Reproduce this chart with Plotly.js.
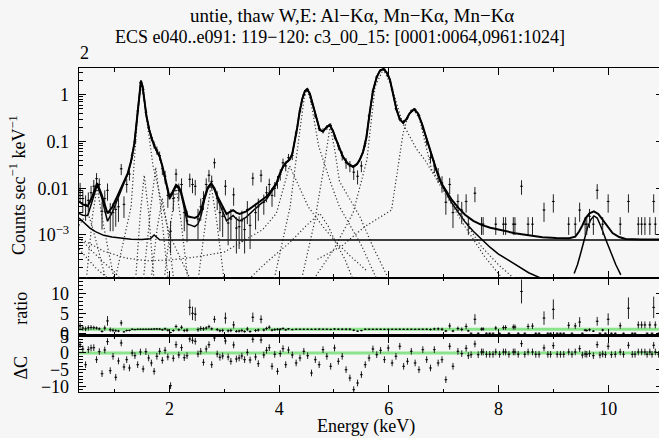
<!DOCTYPE html>
<html><head><meta charset="utf-8">
<script src="https://cdn.plot.ly/plotly-3.0.1.min.js"></script>
<style>html,body{margin:0;padding:0;overflow:hidden;background:#f6f6f6}#chart{width:663px;height:438px}</style>
</head><body><div id="chart"></div>
<script>
// ---------- data ----------
const titleLine1 = 'untie, thaw W,E: Al\u2212K\u03b1, Mn\u2212K\u03b1, Mn\u2212K\u03b1';
const titleLine2 = 'ECS e040..e091: 119\u2212120: c3_00_15: [0001:0064,0961:1024]';
const cornerLabel = '2';
const xTitle = 'Energy (keV)';
const yTitleTop = 'Counts sec<sup>\u22121</sup> keV<sup>\u22121</sup>';
const yTitleRatio = 'ratio';
const yTitleDC = '\u0394C';
const topTickVals = [0.001, 0.01, 0.1, 1];
const topTickText = ['10<sup>\u22123</sup>', '0.01', '0.1', '1'];
const ratioTickVals = [0, 5, 10];
const ratioTickText = ['0', '5', '10'];
const dcTickVals = [-10, -5, 0, 5];
const dcTickText = ['\u221210', '\u22125', '0', '5'];
const ratioRef = 1;
const dcRef = 0;

// total model
const modelE = [0.35,0.42,0.51,0.60,0.68,0.76,0.87,0.96,1.06,1.15,1.24,1.30,1.36,1.40,1.44,1.48,1.51,1.54,1.58,1.63,1.68,1.73,1.78,1.82,1.87,1.91,1.96,2.00,2.06,2.12,2.17,2.21,2.27,2.33,2.40,2.46,2.52,2.58,2.64,2.70,2.76,2.82,2.88,2.94,3.04,3.10,3.16,3.22,3.28,3.40,3.52,3.64,3.77,3.86,3.95,4.01,4.07,4.13,4.19,4.24,4.28,4.33,4.37,4.42,4.47,4.51,4.56,4.62,4.68,4.74,4.80,4.86,4.92,4.98,5.04,5.10,5.16,5.25,5.35,5.42,5.47,5.53,5.59,5.65,5.71,5.78,5.84,5.90,5.96,6.02,6.08,6.14,6.20,6.26,6.32,6.38,6.46,6.53,6.60,6.69,6.78,6.87,6.96,7.05,7.15,7.27,7.39,7.54,7.69,7.85,8.00,8.15,8.30,8.55,8.80,9.05,9.29,9.40,9.47,9.53,9.59,9.66,9.74,9.82,9.90,9.99,10.08,10.20,10.32,10.60,11.0];
const modelTotal = [5.2e-3,4.5e-3,4.1e-3,7.0e-3,1.28e-2,7.5e-3,2.9e-3,4.0e-3,7.2e-3,1.2e-2,2.1e-2,3.8e-2,9.2e-2,0.25,0.8,2.0,1.5,0.78,0.35,0.18,0.11,0.078,0.058,0.048,0.03,0.018,9.5e-3,6.6e-3,8.5e-3,1.18e-2,1.05e-2,8.5e-3,4.5e-3,2.5e-3,2.4e-3,2.3e-3,2.5e-3,3.5e-3,6.5e-3,1.05e-2,1.28e-2,1.0e-2,6.5e-3,4.6e-3,2.8e-3,3.1e-3,3.4e-3,3.0e-3,2.8e-3,3.2e-3,4.1e-3,5.2e-3,6.6e-3,9.0e-3,1.28e-2,2.0e-2,2.9e-2,3.6e-2,4.1e-2,5.5e-2,9.2e-2,0.2,0.41,0.8,1.2,1.32,1.05,0.56,0.3,0.178,0.164,0.2,0.227,0.17,0.109,0.07,0.048,0.034,0.029,0.033,0.041,0.06,0.12,0.4,1.2,2.4,3.3,3.55,3.0,2.1,1.0,0.48,0.3,0.25,0.3,0.4,0.49,0.4,0.247,0.11,0.048,0.024,0.0128,8.5e-3,5.6e-3,3.8e-3,2.7e-3,2.0e-3,1.64e-3,1.42e-3,1.29e-3,1.17e-3,1.09e-3,9.8e-4,8.9e-4,8.6e-4,8.5e-4,9.2e-4,1.18e-3,1.6e-3,2.3e-3,2.9e-3,3.2e-3,2.8e-3,2.1e-3,1.5e-3,1.1e-3,9.0e-4,8.2e-4,8.0e-4,8.0e-4];
// line-only model (no continuum)
const lineE = [0.35,0.42,0.51,0.60,0.68,0.76,0.87,0.96,1.06,1.15,1.24,1.30,1.36,1.40,1.44,1.48,1.51,1.54,1.58,1.63,1.68,1.73,1.78,1.82,1.87,1.91,1.96,2.00,2.06,2.12,2.17,2.21,2.27,2.33,2.40,2.46,2.52,2.58,2.64,2.70,2.76,2.82,2.88,2.94,3.04,3.10,3.16,3.22,3.28,3.40,3.52,3.64,3.77,3.86,3.95,4.01,4.07,4.13,4.19,4.24,4.28,4.33,4.37,4.42,4.47,4.51,4.56,4.62,4.68,4.74,4.80,4.86,4.92,4.98,5.04,5.10,5.16,5.25,5.35,5.42,5.47,5.53,5.59,5.65,5.71,5.78,5.84,5.90,5.96,6.02,6.08,6.14,6.20,6.26,6.32,6.38,6.46,6.53,6.60,6.69,6.78,6.87,6.96,7.05,7.15,7.27,7.39,7.54,7.69,7.85,8.00,8.15,8.30,8.55,8.80,8.90];
const lineOnly = [2.9e-3,2.65e-3,2.6e-3,5.7e-3,1.16e-2,6.5e-3,1.96e-3,3.1e-3,6.3e-3,1.12e-2,2.0e-2,3.7e-2,9.1e-2,0.25,0.8,2.0,1.5,0.78,0.35,0.18,0.11,0.077,0.057,0.047,0.029,0.017,8.7e-3,5.8e-3,7.7e-3,1.1e-2,9.7e-3,7.7e-3,3.7e-3,1.7e-3,1.6e-3,1.5e-3,1.7e-3,2.7e-3,5.7e-3,9.7e-3,1.2e-2,9.2e-3,5.7e-3,3.8e-3,2.0e-3,2.3e-3,2.6e-3,2.2e-3,2.0e-3,2.4e-3,3.3e-3,4.4e-3,5.8e-3,8.2e-3,1.2e-2,1.92e-2,2.82e-2,3.5e-2,4.0e-2,5.4e-2,9.1e-2,0.2,0.41,0.8,1.2,1.32,1.05,0.56,0.3,0.177,0.163,0.2,0.226,0.17,0.108,0.069,0.047,0.033,0.028,0.032,0.040,0.059,0.12,0.4,1.2,2.4,3.3,3.55,3.0,2.1,1.0,0.48,0.3,0.25,0.3,0.4,0.49,0.4,0.246,0.109,0.047,0.023,0.012,7.7e-3,4.8e-3,3.0e-3,1.9e-3,1.2e-3,8.0e-4,5.4e-4,3.9e-4,3.0e-4,2.3e-4,1.55e-4,1.15e-4,1.0e-4];
// continuum
const contE = [0.35,0.45,0.55,0.65,0.80,0.95,1.10,1.30,1.50,1.65,1.72,1.76,1.82,2.0,4.0,6.0,8.0,11.0];
const contV = [2.3e-3,1.75e-3,1.4e-3,1.18e-3,9.8e-4,9.0e-4,8.5e-4,8.1e-4,8.0e-4,8.3e-4,1.0e-3,9.0e-4,7.9e-4,7.8e-4,7.8e-4,7.8e-4,7.8e-4,7.8e-4];
// 9.7 keV gaussian
const gaussE = [9.38,9.44,9.50,9.56,9.62,9.68,9.74,9.80,9.87,9.96,10.05,10.14,10.23];
const gaussV = [1.5e-4,2.3e-4,4.1e-4,7.8e-4,1.39e-3,2.1e-3,2.55e-3,2.3e-3,1.5e-3,7.8e-4,4.1e-4,2.3e-4,1.4e-4];

// dotted model components
const c1E = [0.35,0.45,0.52,0.60,0.72,0.85],           c1V = [1.6e-3,2.4e-3,2.8e-3,1.4e-3,4e-4,1e-4];
const c2E = [0.48,0.60,0.68,0.76,0.88,1.0],            c2V = [1e-4,2.8e-3,0.0105,2.8e-3,5e-4,1e-4];
const c3E = [0.35,0.55,0.80,1.00,1.15],                c3V = [9e-4,5e-4,2.6e-4,1.6e-4,1e-4];
const c4E = [0.35,0.50,0.65,0.80,0.95],                c4V = [5e-4,3.2e-4,2e-4,1.4e-4,1e-4];
const c5E = [1.38,1.47,1.54,1.62,1.72],                c5V = [1e-4,3e-3,0.019,3e-3,1e-4];
const c6E = [1.52,1.66,1.75,1.84,1.98],                c6V = [1e-4,4e-3,0.028,4e-3,1e-4];
const c7E = [1.66,1.78,1.87,1.96,2.08],                c7V = [1e-4,1.5e-3,6e-3,1.5e-3,1e-4];
const c8E = [1.90,2.03,2.12,2.21,2.34],                c8V = [1e-4,2e-3,0.0105,2e-3,1e-4];
const c9E = [2.52,2.66,2.76,2.86,3.00],                c9V = [1e-4,2e-3,0.0115,2e-3,1e-4];
const c10E = [1.0,1.3,1.42,1.48,1.55,1.7,2.0,2.4],     c10V = [1e-4,4e-3,0.4,1.9,0.6,0.03,1e-3,1e-4];
const c11E = [0.40,0.80,1.20,1.60,2.00,2.50,3.00,3.30,3.70,3.95,4.10,4.19,4.32,4.53,4.80,5.04,5.30,5.60];
const c11V = [8e-4,4.5e-4,3.2e-4,2.8e-4,2.9e-4,3.4e-4,4.3e-4,7e-4,1.3e-3,2.9e-3,0.012,0.03,0.014,4e-3,1.5e-3,7e-4,3.5e-4,1.7e-4];
const c12E = [3.40,3.80,4.20,4.50,4.74,4.90,5.04,5.20,5.36], c12V = [1e-4,2.8e-4,7e-4,1.6e-3,2.9e-3,1.5e-3,6.6e-4,3e-4,1e-4];
const c13E = [3.90,4.20,4.36,4.46,4.51,4.58,4.72,4.95,5.10,5.50,5.80], c13V = [1e-4,4e-3,0.12,0.9,1.28,0.7,0.08,0.012,4e-3,6e-4,1e-4];
const c14E = [4.40,4.65,4.82,4.93,5.02,5.10,5.47,5.71,6.02], c14V = [1e-4,2e-3,0.03,0.215,0.06,0.014,2.5e-3,5.6e-4,1e-4];
const c15E = [4.60,5.00,5.35,5.60,5.75,5.90,6.05,6.25,6.50,6.66,7.02,7.39,7.75,8.12];
const c15V = [1e-4,5e-4,3e-3,0.04,1.5,3.5,1.5,0.25,0.07,0.04,7.8e-3,1.5e-3,3.4e-4,1e-4];
const c16E = [4.70,5.16,5.56,6.05,6.26,6.36,6.46,6.56,6.78,7.15,7.45,7.69,8.00,8.35];
const c16V = [3e-4,6e-4,1.5e-3,3.4e-3,0.15,0.38,0.47,0.3,0.025,5.6e-3,1.5e-3,5.6e-4,2.3e-4,1e-4];

// data bins
const binE = [0.37,0.42,0.47,0.52,0.57,0.62,0.67,0.72,0.77,0.82,0.87,0.92,0.97,1.02,1.07,1.12,1.17,1.22,1.27,1.32,1.37,1.42,1.47,1.52,1.57,1.62,1.67,1.72,1.77,1.82,1.87,1.92,1.97,2.02,2.07,2.12,2.17,2.22,2.27,2.32,2.37,2.42,2.47,2.52,2.57,2.62,2.67,2.72,2.77,2.82,2.87,2.92,2.97,3.02,3.07,3.12,3.17,3.22,3.27,3.32,3.37,3.42,3.47,3.52,3.57,3.62,3.67,3.72,3.77,3.82,3.87,3.92,3.97,4.02,4.07,4.12,4.17,
4.24,4.31,4.38,4.45,4.52,4.59,4.66,4.73,4.80,4.87,4.94,5.01,5.08,5.15,5.22,5.29,5.36,5.43,5.50,5.57,5.64,5.71,5.78,5.85,5.92,5.99,6.06,6.13,6.20,6.27,6.34,6.41,6.48,6.55,6.62,6.69,6.76,6.83,6.90,6.97,7.04,
7.11,7.17,7.26,7.33,7.41,7.45,7.57,7.69,7.72,7.95,8.09,8.13,8.27,8.30,8.42,8.54,8.62,8.83,9.00,9.28,9.40,9.48,9.58,9.61,9.66,9.73,9.80,9.90,10.00,10.22,10.37,10.55,10.61,10.67,10.76,10.83,10.86];
const counts = [9e-3,6e-3,4.5e-3,5.5e-3,8e-3,0.011,0.016,0.012,3.2e-3,6e-3,9e-3,3e-3,3e-3,3.5e-3,4e-3,0.026,4.5e-3,0.012,0.02,0.05,0.1,0.45,1.8,1.3,0.42,0.2,0.12,0.085,0.065,0.05,0.026,0.018,7e-3,1.2e-3,6e-3,0.02,9e-3,0.012,3e-3,2e-3,0.0155,0.012,0.011,2.2e-3,4e-3,6e-3,0.012,0.019,0.014,0.035,6e-3,3e-3,2.5e-3,0.011,1.8e-3,2.2e-3,7.2e-3,1.4e-3,1.5e-3,2e-3,1.3e-3,3.5e-3,1.6e-3,0.0164,3e-3,4e-3,0.019,5e-3,8e-3,0.012,7e-3,0.01,0.014,0.02,0.035,0.03,0.045,
0.05,0.15,0.45,1.0,1.3,0.7,0.35,0.19,0.17,0.2,0.22,0.13,0.08,0.05,0.035,0.03,0.022,0.018,0.03,0.09,0.35,1.2,2.4,3.3,3.5,2.5,1.3,0.5,0.3,0.26,0.32,0.45,0.48,0.36,0.2,0.1,0.045,0.03,0.02,0.013,5e-3,
0.012,3e-3,5.2e-3,3.4e-3,5.2e-3,1.7e-3,7.8e-3,1.7e-3,1.7e-3,1.7e-3,1.7e-3,1.7e-3,1.7e-3,1.7e-3,0.011,1.7e-3,1.7e-3,3.4e-3,5.2e-3,1.7e-3,1.7e-3,3.4e-3,1.7e-3,1.7e-3,2.5e-3,1.7e-3,9e-3,1.7e-3,5.2e-3,1.7e-3,5.2e-3,1.7e-3,1.7e-3,1.7e-3,1.7e-3,5.2e-3,1.7e-3];
const countsErr = [4e-3,3e-3,2.5e-3,2.6e-3,3.2e-3,4e-3,5e-3,4.2e-3,1.9e-3,3e-3,3.6e-3,1.8e-3,1.8e-3,2e-3,2.1e-3,7e-3,2.2e-3,4e-3,5.5e-3,9e-3,0.014,0.035,0.08,0.07,0.035,0.025,0.018,0.015,0.013,0.011,7e-3,5.5e-3,3.2e-3,8e-4,2.8e-3,6e-3,3.6e-3,4.2e-3,1.8e-3,1.3e-3,5e-3,4.2e-3,4e-3,1.4e-3,2e-3,2.6e-3,4.2e-3,5.6e-3,4.6e-3,8.5e-3,2.6e-3,1.8e-3,1.6e-3,4e-3,1.2e-3,1.4e-3,3e-3,1e-3,1e-3,1.3e-3,9e-4,1.8e-3,1.1e-3,5e-3,1.7e-3,2e-3,5.6e-3,2.3e-3,3e-3,4e-3,3e-3,3.5e-3,4.3e-3,5.5e-3,8e-3,7e-3,9e-3,
0.01,0.02,0.035,0.055,0.065,0.045,0.032,0.024,0.022,0.024,0.025,0.019,0.015,0.011,9e-3,8e-3,7e-3,6e-3,8e-3,0.015,0.032,0.06,0.085,0.1,0.1,0.085,0.06,0.038,0.03,0.027,0.03,0.035,0.036,0.031,0.024,0.017,0.011,9e-3,7e-3,5e-3,2.3e-3,
4.5e-3,1.6e-3,2.2e-3,1.7e-3,2.2e-3,7e-4,2.8e-3,7e-4,7e-4,7e-4,7e-4,7e-4,7e-4,7e-4,3.8e-3,7e-4,7e-4,1.5e-3,2.2e-3,7e-4,7e-4,1.5e-3,7e-4,7e-4,1.1e-3,7e-4,3.2e-3,7e-4,2.2e-3,7e-4,2.2e-3,7e-4,7e-4,7e-4,7e-4,2.2e-3,7e-4];
const ratio = [1.8,1.3,1.1,1.35,1.45,1.4,1.3,1.1,0.46,1.3,3.1,0.9,0.73,0.64,0.55,2.6,0.35,0.67,0.71,1.0,0.91,1.0,1.0,1.0,1.0,1.0,1.0,1.06,1.08,1.04,0.87,1.1,0.78,0.17,0.68,1.7,0.86,1.5,0.67,0.77,6.5,5.0,4.8,0.9,1.2,1.1,1.3,1.65,1.1,3.5,0.92,0.63,0.7,3.8,0.6,0.69,2.1,0.47,0.54,0.69,0.42,1.06,0.43,4.0,0.67,0.8,3.5,0.83,1.2,1.5,0.78,0.91,1.0,1.0,1.2,0.86,1.1,
0.91,1.0,1.0,1.0,1.0,0.98,1.0,1.02,1.0,1.0,0.97,1.05,1.0,1.0,1.0,1.0,0.76,0.51,0.67,1.0,1.0,1.0,1.0,1.0,0.99,1.0,1.0,1.0,1.0,1.0,1.0,1.0,0.98,1.0,1.0,1.0,0.94,1.07,1.1,1.0,0.55,
1.85,0.55,1.2,0.97,1.7,0.6,3.5,1.04,1.06,1.3,1.4,1.45,1.55,1.56,10.5,1.7,1.8,3.8,6.0,2.0,1.85,2.8,0.77,0.68,0.86,0.53,3.0,0.8,3.5,1.9,6.3,2.1,2.1,2.1,2.1,6.5,2.1];
const ratioErr = [0.8,0.65,0.6,0.65,0.6,0.5,0.4,0.38,0.27,0.65,1.2,0.55,0.45,0.37,0.3,0.7,0.17,0.22,0.2,0.18,0.13,0.08,0.04,0.05,0.08,0.12,0.15,0.18,0.2,0.22,0.24,0.33,0.35,0.12,0.32,0.5,0.34,0.5,0.4,0.5,2.0,1.7,1.7,0.55,0.6,0.5,0.45,0.48,0.37,0.85,0.4,0.38,0.45,1.4,0.4,0.44,0.9,0.33,0.36,0.45,0.29,0.55,0.3,1.2,0.38,0.4,1.0,0.38,0.45,0.5,0.33,0.32,0.3,0.27,0.27,0.2,0.22,
0.18,0.13,0.08,0.055,0.05,0.065,0.09,0.13,0.13,0.12,0.11,0.15,0.19,0.22,0.26,0.27,0.24,0.17,0.18,0.17,0.09,0.05,0.035,0.03,0.03,0.034,0.046,0.076,0.1,0.1,0.09,0.078,0.075,0.086,0.12,0.17,0.23,0.32,0.38,0.39,0.27,
0.7,0.3,0.5,0.48,0.73,0.25,1.3,0.43,0.44,0.53,0.58,0.6,0.64,0.64,3.0,0.7,0.73,1.7,2.5,0.82,0.76,1.25,0.32,0.28,0.38,0.22,1.1,0.33,1.5,0.78,2.7,0.87,0.87,0.87,0.87,2.7,0.87];
const deltaC = [2.5,1.2,-3.5,1.0,1.5,1.6,-2.0,0.4,-6.2,0.9,3.4,-5.3,-1.0,-7.3,-2.4,3.0,-4.2,-2.0,-4.5,0.0,-0.8,-3.5,0.3,-4.8,0.4,-1.5,-3.0,-5.5,-1.0,0.5,-2.2,0.8,-1.2,-9.8,-1.6,2.5,-0.6,1.6,-1.4,-0.8,4.2,3.8,3.5,-0.3,0.5,-2.8,1.2,2.5,-3.5,4.5,-0.3,-1.3,-0.9,3.6,-1.2,-2.5,2.4,-1.8,-1.5,-0.9,-2.0,0.2,-2.1,4.1,-1.2,-3.2,3.9,-0.6,0.8,1.6,-4.0,-0.4,-5.5,-0.2,1.3,-3.5,0.9,
-0.6,-3.0,-1.5,0.5,-0.8,-6.0,-2.0,-3.5,1.0,-1.0,-4.0,1.5,-2.5,-1.0,-5.0,-7.5,-11.0,-9.0,-6.5,-3.5,-1.5,1.2,-0.5,0.8,-2.0,1.5,-3.0,-1.0,2.0,-4.0,-2.5,0.5,-3.0,-5.0,1.0,-2.0,-4.5,1.0,-3.0,-2.0,-8.0,
2.0,-4.0,0.5,-0.2,1.4,-0.8,2.7,0.3,0.3,0.3,0.3,0.3,0.3,0.3,2.8,0.3,0.3,1.5,2.2,0.3,0.3,1.3,-0.3,-0.4,-0.2,-0.8,2.5,-0.3,2.0,0.3,2.3,0.3,0.3,0.3,0.3,2.3,0.3];
// empty bins (no counts) at high energy
const emptyE = [7.50,7.63,7.78,7.84,7.90,8.02,8.19,8.36,8.48,8.68,8.74,8.90,8.95,9.07,9.13,9.19,9.34,9.53,9.85,9.95,10.06,10.13,10.28,10.44,10.49,10.71,10.80,10.92];
const emptyRatio = [0,0,0,0,0,0,0,0,0,0,0,0,0,0,0,0,0,0,0,0,0,0,0,0,0,0,0,0];
const emptyDC = [-0.5,-0.5,-0.4,-0.4,-0.4,-0.4,-0.4,-0.4,-0.4,-0.4,-0.4,-0.4,-0.4,-0.4,-0.4,-0.4,-0.4,-0.6,-0.6,-0.5,-0.5,-0.4,-0.4,-0.4,-0.4,-0.4,-0.4,-0.4];

// ---------- styling ----------
const FONT = 'Liberation Serif, Times New Roman, serif';
const BG = '#f6f6f6';
const GREEN = 'rgba(120,225,120,0.85)';
const compList = [[c1E,c1V],[c2E,c2V],[c3E,c3V],[c4E,c4V],[c5E,c5V],[c6E,c6V],[c7E,c7V],[c8E,c8V],[c9E,c9V],[c10E,c10V],[c11E,c11V],[c12E,c12V],[c13E,c13V],[c14E,c14V],[c15E,c15V],[c16E,c16V]];

const traces = [];
compList.forEach(([e, v]) => traces.push({x: e, y: v, xaxis: 'x3', yaxis: 'y', mode: 'lines',
  line: {color: '#333', width: 1.2, dash: '1.2px,2.3px'}, hoverinfo: 'skip', showlegend: false}));
traces.push({x: contE, y: contV, xaxis: 'x3', yaxis: 'y', mode: 'lines', line: {color: '#000', width: 1.5}, showlegend: false});
traces.push({x: lineE, y: lineOnly, xaxis: 'x3', yaxis: 'y', mode: 'lines', line: {color: '#000', width: 1.5}, showlegend: false});
traces.push({x: gaussE, y: gaussV, xaxis: 'x3', yaxis: 'y', mode: 'lines', line: {color: '#000', width: 1.5}, showlegend: false});
traces.push({x: binE, y: counts, xaxis: 'x3', yaxis: 'y', mode: 'markers', marker: {color: '#000', size: 1.5},
  error_y: {type: 'data', array: countsErr, color: '#222', thickness: 1, width: 0},
  error_x: {type: 'constant', value: 0.025, color: '#222', thickness: 1, width: 0}, showlegend: false});
traces.push({x: modelE, y: modelTotal, xaxis: 'x3', yaxis: 'y', mode: 'lines', line: {color: '#000', width: 2}, showlegend: false});
// ratio
traces.push({x: binE, y: ratio, xaxis: 'x2', yaxis: 'y2', mode: 'markers', marker: {color: '#000', size: 1.5},
  error_y: {type: 'data', array: ratioErr, color: '#222', thickness: 1, width: 0},
  error_x: {type: 'constant', value: 0.025, color: '#222', thickness: 1, width: 0}, showlegend: false});
traces.push({x: emptyE, y: emptyRatio, xaxis: 'x2', yaxis: 'y2', mode: 'markers', marker: {color: '#000', size: 1.5},
  error_x: {type: 'constant', value: 0.025, color: '#222', thickness: 1, width: 0}, showlegend: false});
// delta C
traces.push({x: binE, y: deltaC, xaxis: 'x', yaxis: 'y3', mode: 'markers', marker: {color: '#000', size: 1.5},
  error_y: {type: 'constant', value: 1, color: '#222', thickness: 1, width: 0},
  error_x: {type: 'constant', value: 0.025, color: '#222', thickness: 1, width: 0}, showlegend: false});
traces.push({x: emptyE, y: emptyDC, xaxis: 'x', yaxis: 'y3', mode: 'markers', marker: {color: '#000', size: 1.5},
  error_y: {type: 'constant', value: 1, color: '#222', thickness: 1, width: 0},
  error_x: {type: 'constant', value: 0.025, color: '#222', thickness: 1, width: 0}, showlegend: false});

function xAxis(anchor, labels) {
  const a = {anchor: anchor, range: [0.35, 11], showgrid: false, zeroline: false, showline: true,
    linecolor: '#000', linewidth: 1.3, mirror: 'allticks', ticks: 'inside', ticklen: 7, tickwidth: 1, tickcolor: '#000',
    tick0: 0, dtick: 2, minor: {dtick: 1, ticklen: 3.5, ticks: 'inside', tickcolor: '#000', tickwidth: 1},
    showticklabels: labels, tickfont: {family: FONT, size: 18, color: '#000'}, ticklabelstandoff: 0};
  if (anchor !== 'y3') a.matches = 'x';
  return a;
}
function yBase(domain) {
  return {domain: domain, showgrid: false, zeroline: false, showline: true, linecolor: '#000', linewidth: 1.3,
    mirror: 'allticks', ticks: 'inside', ticklen: 7, tickwidth: 1, tickcolor: '#000',
    tickfont: {family: FONT, size: 18, color: '#000'}, ticklabelstandoff: 5, tickmode: 'array'};
}
const logMinor = [];
[1e-4, 1e-3, 1e-2, 1e-1, 1].forEach(d => { for (let k = 2; k <= 9; k++) logMinor.push(k * d); });
const yTop = Object.assign(yBase([0.352, 1]), {type: 'log', range: [Math.log10(1.2e-4), Math.log10(3.73)],
  tickvals: topTickVals, ticktext: topTickText, anchor: 'x3',
  minor: {tickmode: 'array', tickvals: logMinor, ticklen: 3.5, ticks: 'inside', tickcolor: '#000', tickwidth: 1}});
const yRatio = Object.assign(yBase([0.174, 0.352]), {range: [-0.6, 13.9], tickvals: ratioTickVals, ticktext: ratioTickText, anchor: 'x2',
  minor: {tickmode: 'array', tickvals: [1,2,3,4,6,7,8,9,11,12,13], ticklen: 3.5, ticks: 'inside', tickcolor: '#000', tickwidth: 1}});
const yDC = Object.assign(yBase([0, 0.174]), {range: [-11.7, 5.2], tickvals: dcTickVals, ticktext: dcTickText, anchor: 'x',
  minor: {tickmode: 'array', tickvals: [-11,-9,-8,-7,-6,-4,-3,-2,-1,1,2,3,4], ticklen: 3.5, ticks: 'inside', tickcolor: '#000', tickwidth: 1}});

const tf = (s) => ({family: FONT, size: s, color: '#000'});
const layout = {
  width: 663, height: 438, margin: {l: 79, r: 0, t: 68, b: 46},
  paper_bgcolor: BG, plot_bgcolor: BG, showlegend: false,
  xaxis: xAxis('y3', true), xaxis2: xAxis('y2', false), xaxis3: xAxis('y', false),
  yaxis: yTop, yaxis2: yRatio, yaxis3: yDC,
  shapes: [
    {type: 'line', xref: 'x2 domain', x0: 0, x1: 1, yref: 'y2', y0: ratioRef, y1: ratioRef, line: {color: GREEN, width: 3}, layer: 'below'},
    {type: 'line', xref: 'x domain', x0: 0, x1: 1, yref: 'y3', y0: dcRef, y1: dcRef, line: {color: GREEN, width: 3}, layer: 'below'}
  ],
  annotations: [
    {text: titleLine1, xref: 'paper', yref: 'paper', x: 0.4675, y: 1.1605, xanchor: 'center', yanchor: 'middle', showarrow: false, font: tf(19)},
    {text: titleLine2, xref: 'paper', yref: 'paper', x: 0.447, y: 1.0957, xanchor: 'center', yanchor: 'middle', showarrow: false, font: tf(18)},
    {text: cornerLabel, xref: 'paper', yref: 'paper', x: 0.0086, y: 1.0463, xanchor: 'center', yanchor: 'middle', showarrow: false, font: tf(18)},
    {text: xTitle, xref: 'paper', yref: 'paper', x: 0.4914, y: -0.108, xanchor: 'center', yanchor: 'middle', showarrow: false, font: tf(18)},
    {text: yTitleTop, xref: 'paper', yref: 'paper', x: -0.1045, y: 0.639, xanchor: 'center', yanchor: 'middle', textangle: -90, showarrow: false, font: tf(18)},
    {text: yTitleRatio, xref: 'paper', yref: 'paper', x: -0.0998, y: 0.259, xanchor: 'center', yanchor: 'middle', textangle: -90, showarrow: false, font: tf(18)},
    {text: yTitleDC, xref: 'paper', yref: 'paper', x: -0.1, y: 0.074, xanchor: 'center', yanchor: 'middle', textangle: -90, showarrow: false, font: tf(18)}
  ]
};
Plotly.newPlot('chart', traces, layout, {staticPlot: true, displayModeBar: false});
</script></body></html>
